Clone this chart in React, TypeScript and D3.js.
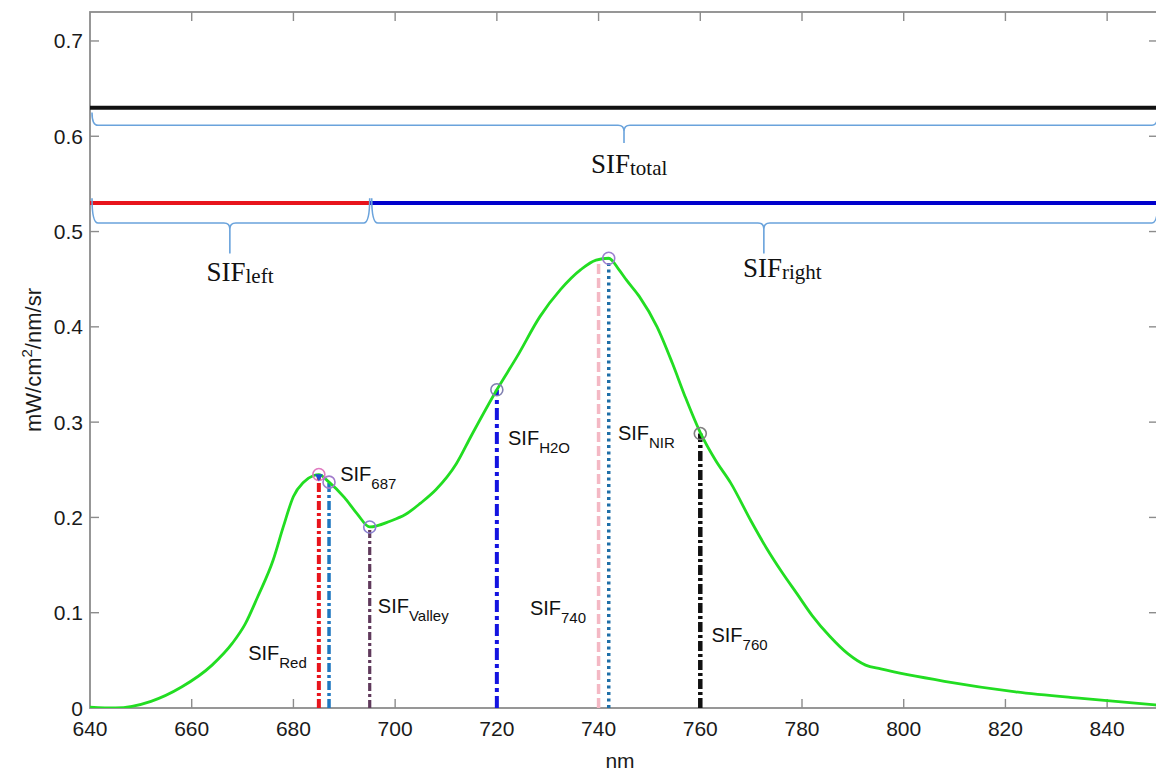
import React, { useEffect, useRef } from 'react';
import * as d3 from 'd3';

// spectrum
const wavelengths = [640, 645, 652, 658, 664, 668, 670.5, 673, 676, 678, 680, 682, 684, 685, 687, 690, 692.5, 695, 699, 702, 705, 708, 712, 715, 720, 724, 728.5, 732.5, 736.5, 739.5, 742, 744, 745.5, 748, 751.5, 754.5, 757, 760, 763, 766, 770, 773, 776, 779, 782, 785.5, 789, 792.5, 795.5, 808, 822, 835, 850];
const sifValues = [0.001, 0.0, 0.007, 0.022, 0.045, 0.068, 0.088, 0.117, 0.155, 0.19, 0.222, 0.237, 0.244, 0.245, 0.237, 0.221, 0.204, 0.19, 0.196, 0.203, 0.215, 0.229, 0.256, 0.286, 0.334, 0.369, 0.411, 0.439, 0.46, 0.47, 0.472, 0.46, 0.449, 0.432, 0.4, 0.362, 0.327, 0.289, 0.26, 0.236, 0.196, 0.168, 0.143, 0.12, 0.097, 0.075, 0.057, 0.045, 0.041, 0.028, 0.017, 0.01, 0.003];

const xTicks = [640, 660, 680, 700, 720, 740, 760, 780, 800, 820, 840];
const yTicks = [0, 0.1, 0.2, 0.3, 0.4, 0.5, 0.6, 0.7];

// retrieval positions
const featureSubs = ['Red', '687', 'Valley', 'H2O', '740', 'NIR', '760'];
const featureNm = [685, 687, 695, 720, 740, 742, 760];
const featureTop = [0.245, 0.237, 0.19, 0.334, 0.47, 0.472, 0.288];
const featureLabelNm = [671.1, 689.2, 696.6, 722.2, 726.5, 743.8, 762.2];
const featureLabelVal = [0.05, 0.238, 0.0997, 0.276, 0.0976, 0.281, 0.0696];

// integrated bands
const bandNames = ['total', 'left', 'right'];
const bandStart = [640, 640, 695];
const bandEnd = [850, 695, 850];
const bandLevel = [0.63, 0.53, 0.53];
const braceTop = [0.625, 0.535, 0.535];
const braceBar = [0.6115, 0.509, 0.509];
const braceTip = [0.593, 0.477, 0.477];
const bandLabelNm = [738.5, 662.9, 768.4];
const bandLabelVal = [0.561, 0.448, 0.452];

const featureStyle: Record<string, { color: string; dash: string; width: number; marker: string | null }> = {
  Red: { color: '#e8141c', dash: '9,3,3,3', width: 4, marker: '#e07ac0' },
  '687': { color: '#1f78c0', dash: '9,3,3,3', width: 3.5, marker: '#a27ccc' },
  Valley: { color: '#603a5c', dash: '8,3,3,3', width: 3.2, marker: '#8a80d0' },
  H2O: { color: '#1414e0', dash: '12,4,4,4', width: 4, marker: '#8080b0' },
  '740': { color: '#f4b8c4', dash: '10,4', width: 3.5, marker: null },
  NIR: { color: '#1f6fa8', dash: '3,3.5', width: 3.5, marker: '#9c80d0' },
  '760': { color: '#111111', dash: '10,3,3,3', width: 4.5, marker: '#808080' },
};
const bandColor: Record<string, string> = { total: '#111111', left: '#e8141c', right: '#0000cc' };

const App = () => {
  const ref = useRef<SVGSVGElement | null>(null);

  useEffect(() => {
    if (!ref.current) return;
    const svg = d3.select(ref.current);
    svg.selectAll('*').remove();

    const left = 90, right = 1158, top = 12, bottom = 708;
    const x = d3.scaleLinear().domain([640, 850]).range([left, right]);
    const y = d3.scaleLinear().domain([0, 0.7304]).range([bottom, top]);
    const sans = 'Liberation Sans, Arial, sans-serif';
    const serif = 'Liberation Serif, Times New Roman, serif';
    const axisColor = '#8c8c8c';

    const defs = svg.append('defs');
    defs.append('clipPath').attr('id', 'plot').append('rect')
      .attr('x', left).attr('y', top).attr('width', right - left).attr('height', bottom - top);

    // frame
    svg.append('rect').attr('x', left).attr('y', top).attr('width', right - left).attr('height', bottom - top)
      .attr('fill', 'none').attr('stroke', axisColor).attr('stroke-width', 1.8);

    // ticks
    const tk = svg.append('g').attr('stroke', axisColor).attr('stroke-width', 1.4);
    xTicks.slice(1).forEach(t => {
      tk.append('line').attr('x1', x(t)).attr('x2', x(t)).attr('y1', bottom).attr('y2', bottom - 9);
      tk.append('line').attr('x1', x(t)).attr('x2', x(t)).attr('y1', top).attr('y2', top + 9);
    });
    yTicks.slice(1).forEach(t => {
      tk.append('line').attr('x1', left).attr('x2', left + 9).attr('y1', y(t)).attr('y2', y(t));
      tk.append('line').attr('x1', right).attr('x2', right - 9).attr('y1', y(t)).attr('y2', y(t));
    });

    svg.append('g').selectAll('text').data(xTicks).enter().append('text')
      .attr('x', d => x(d)).attr('y', bottom + 28).attr('text-anchor', 'middle')
      .attr('font-family', sans).attr('font-size', 21).attr('fill', '#1a1a1a')
      .text(d => String(d));
    svg.append('g').selectAll('text').data(yTicks).enter().append('text')
      .attr('x', left - 7).attr('y', d => y(d) + 7.5).attr('text-anchor', 'end')
      .attr('font-family', sans).attr('font-size', 21).attr('fill', '#1a1a1a')
      .text(d => (d === 0 ? '0' : d.toFixed(1)));

    svg.append('text').attr('x', (left + right) / 2 - 4).attr('y', 768).attr('text-anchor', 'middle')
      .attr('font-family', sans).attr('font-size', 21).attr('fill', '#1a1a1a').text('nm');
    const yl = svg.append('text').attr('transform', `translate(41,${(top + bottom) / 2}) rotate(-90)`)
      .attr('text-anchor', 'middle').attr('font-family', sans).attr('font-size', 22).attr('fill', '#1a1a1a');
    yl.append('tspan').text('mW/cm');
    yl.append('tspan').attr('font-size', 15).attr('dy', -9).text('2');
    yl.append('tspan').attr('dy', 9).text('/nm/sr');

    const plot = svg.append('g').attr('clip-path', 'url(#plot)');

    // band lines and braces
    bandNames.forEach((b, i) => {
      plot.append('line')
        .attr('x1', x(bandStart[i])).attr('x2', x(bandEnd[i]))
        .attr('y1', y(bandLevel[i])).attr('y2', y(bandLevel[i]))
        .attr('stroke', bandColor[b]).attr('stroke-width', 4);
    });
    bandNames.forEach((b, i) => {
      const x0 = x(bandStart[i]) + 2, x1 = x(bandEnd[i]);
      const xm = x((bandStart[i] + bandEnd[i]) / 2);
      const yt = y(braceTop[i]), yb = y(braceBar[i]), yp = y(braceTip[i]);
      const r = 6;
      const p = d3.path();
      p.moveTo(x0, yt);
      p.quadraticCurveTo(x0, yb, x0 + r, yb);
      p.lineTo(xm - r, yb);
      p.quadraticCurveTo(xm, yb, xm, yb + r);
      p.lineTo(xm, yp);
      p.moveTo(xm, yb + r);
      p.quadraticCurveTo(xm, yb, xm + r, yb);
      p.lineTo(x1 - r, yb);
      p.quadraticCurveTo(x1, yb, x1, yt);
      plot.append('path').attr('d', p.toString()).attr('fill', 'none')
        .attr('stroke', '#6aa3dc').attr('stroke-width', 1.6);

      const t = svg.append('text').attr('x', x(bandLabelNm[i])).attr('y', y(bandLabelVal[i]))
        .attr('font-family', serif).attr('font-size', 27).attr('fill', '#111');
      t.append('tspan').text('SIF');
      t.append('tspan').attr('font-size', 21).attr('dy', 2).text(b);
    });

    // feature verticals
    featureSubs.forEach((f, i) => {
      const s = featureStyle[f];
      plot.append('line')
        .attr('x1', x(featureNm[i])).attr('x2', x(featureNm[i]))
        .attr('y1', y(0)).attr('y2', y(featureTop[i]))
        .attr('stroke', s.color).attr('stroke-width', s.width)
        .attr('stroke-dasharray', s.dash);
    });

    // spectrum
    const line = d3.line<number>()
      .x((_, i) => x(wavelengths[i]))
      .y(d => y(d))
      .curve(d3.curveMonotoneX);
    plot.append('path').datum(sifValues).attr('d', line)
      .attr('fill', 'none').attr('stroke', '#22dd22').attr('stroke-width', 2.8);

    // markers
    featureSubs.forEach((f, i) => {
      const s = featureStyle[f];
      if (!s.marker) return;
      plot.append('circle').attr('cx', x(featureNm[i])).attr('cy', y(featureTop[i]))
        .attr('r', 6).attr('fill', 'none').attr('stroke', s.marker).attr('stroke-width', 1.6);
    });
    plot.append('path')
      .attr('d', d3.symbol().type(d3.symbolTriangle).size(28)())
      .attr('transform', `translate(${x(featureNm[0])},${y(featureTop[0]) + 2}) rotate(180)`)
      .attr('fill', '#2050d0');

    // feature labels
    featureSubs.forEach((f, i) => {
      const t = svg.append('text').attr('x', x(featureLabelNm[i])).attr('y', y(featureLabelVal[i]))
        .attr('font-family', sans).attr('font-size', 20).attr('fill', '#111');
      t.append('tspan').text('SIF');
      t.append('tspan').attr('font-size', 15).attr('dy', 8).text(f);
    });
  }, []);

  return (
    <svg ref={ref} width={1156} height={774}
      style={{ position: 'absolute', left: 0, top: 0, background: '#fff' }} />
  );
};

export default App;
